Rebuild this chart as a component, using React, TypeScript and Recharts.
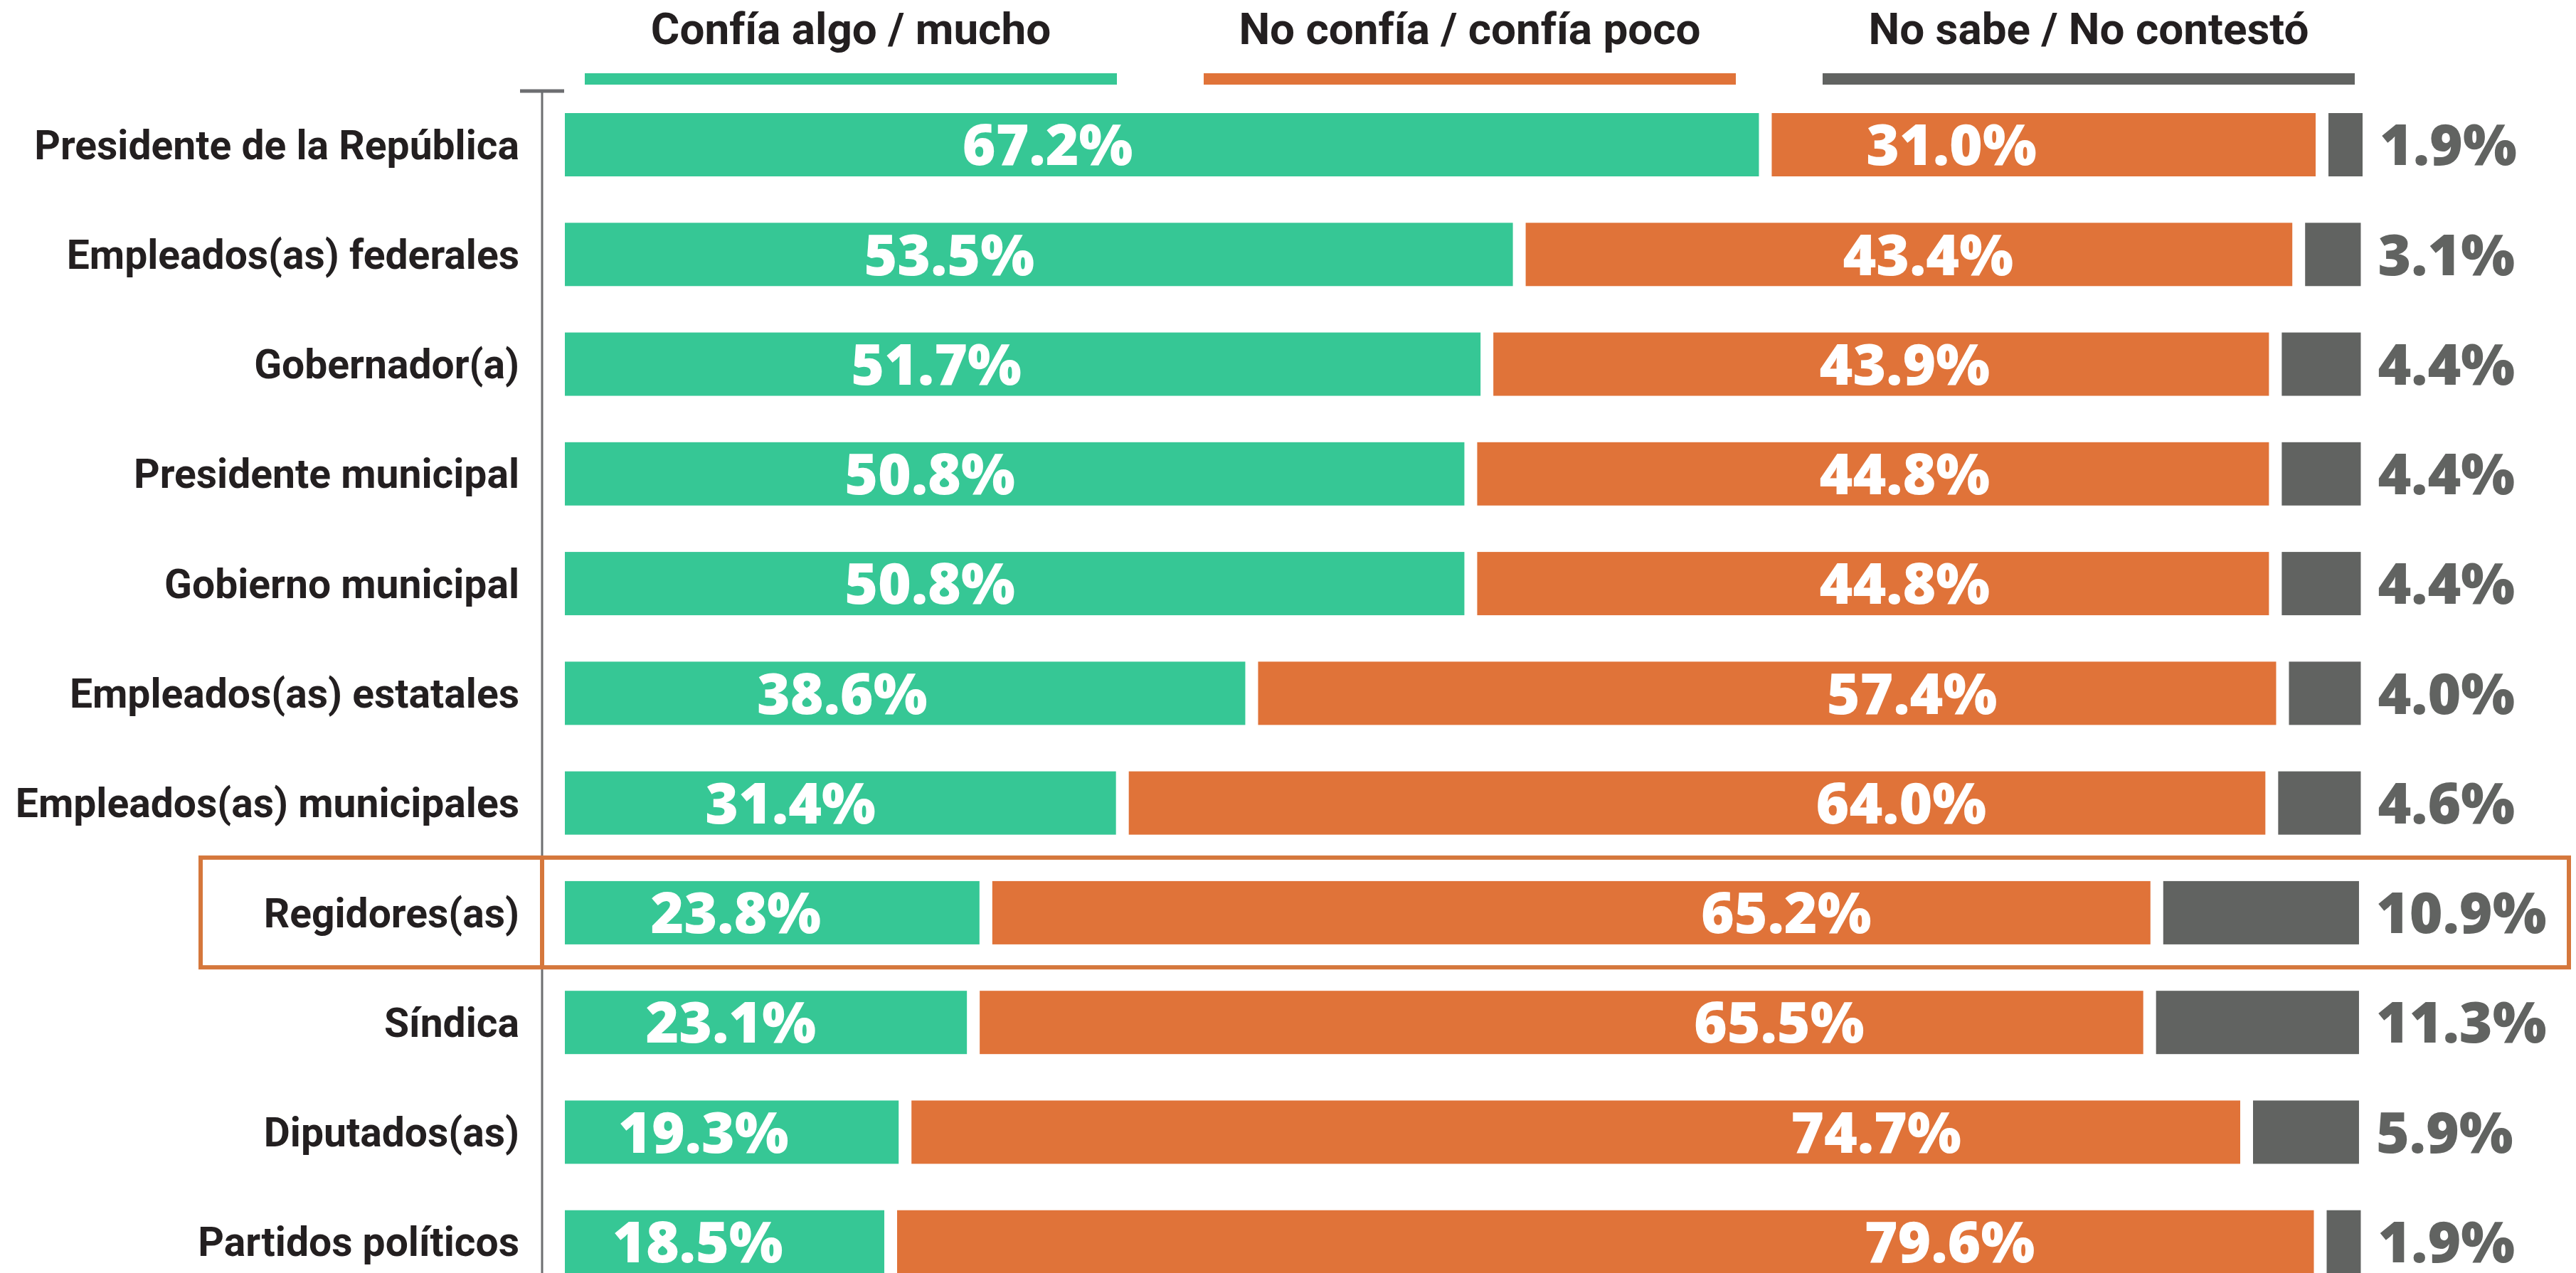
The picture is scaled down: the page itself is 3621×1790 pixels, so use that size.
import { Bar, BarChart, LabelList, Legend, XAxis, YAxis } from 'recharts'

const categories = [
  'Presidente de la República',
  'Empleados(as) federales',
  'Gobernador(a)',
  'Presidente municipal',
  'Gobierno municipal',
  'Empleados(as) estatales',
  'Empleados(as) municipales',
  'Regidores(as)',
  'Síndica',
  'Diputados(as)',
  'Partidos políticos',
]
const confia = [67.2, 53.5, 51.7, 50.8, 50.8, 38.6, 31.4, 23.8, 23.1, 19.3, 18.5]
const noConfia = [31.0, 43.4, 43.9, 44.8, 44.8, 57.4, 64.0, 65.2, 65.5, 74.7, 79.6]
const noSabe = [1.9, 3.1, 4.4, 4.4, 4.4, 4.0, 4.6, 10.9, 11.3, 5.9, 1.9]
const seriesNames = ['Confía algo / mucho', 'No confía / confía poco', 'No sabe / No contestó']
const highlighted = 'Regidores(as)'

const data = categories.map((name, i) => ({
  name,
  confia: confia[i],
  noConfia: noConfia[i],
  noSabe: noSabe[i],
}))

const W = 3621
const H = 1790
const CHART_H = 1830
const MARGIN = { top: 126, right: 300, left: 0, bottom: 7 }
const AXIS_W = 762
const GAP = 18
const BAR_SIZE = 89

const GREEN = '#36c795'
const ORANGE = '#e07339'
const GRAY = '#616361'
const BOX = '#d5773c'
const TEXT = '#231f20'
const AXIS = '#6d6e71'

const labelFont = 'Roboto, sans-serif'
const valueFont = '"Open Sans", sans-serif'

const fmt = (v: number) => `${v.toFixed(1)}%`

// bars leave a white gap on their right edge, except the last one
const GappedBar = (props: any) => {
  const { x, y, width, height, fill } = props
  return <rect x={x} y={y} width={Math.max(width - GAP, 0)} height={height} fill={fill} />
}
const PlainBar = (props: any) => {
  const { x, y, width, height, fill } = props
  return <rect x={x} y={y} width={Math.max(width, 0)} height={height} fill={fill} />
}

const CategoryTick = ({ x, y, payload }: any) => (
  <text x={x} y={y} dy="0.36em" textAnchor="end" fill={TEXT} fontFamily={labelFont} fontWeight={700} fontSize={57}>
    {payload.value}
  </text>
)

const valueText = { fontFamily: valueFont, fontWeight: 800, fontSize: 80 }

const ConfiaLabel = (props: any) => {
  const { x, y, width, height, value } = props
  const cx = Math.max(x + width * 0.4, x + 185)
  return (
    <text x={cx} y={y + height / 2} dy="0.36em" textAnchor="middle" fill="#fff" {...valueText}>
      {fmt(value)}
    </text>
  )
}

const NoConfiaLabel = (props: any) => {
  const { x, y, width, height, value } = props
  const cx = x + width - 530
  return (
    <text x={cx} y={y + height / 2} dy="0.36em" textAnchor="middle" fill="#fff" {...valueText}>
      {fmt(value)}
    </text>
  )
}

const NoSabeLabel = (props: any) => {
  const { x, y, width, height, value } = props
  return (
    <text x={x + width + 24} y={y + height / 2} dy="0.36em" textAnchor="start" fill={GRAY} {...valueText}>
      {fmt(value)}
    </text>
  )
}

const LegendContent = ({ payload }: any) => (
  <svg width={W} height={MARGIN.top}>
    {(payload || []).map((entry: any, i: number) => {
      const left = 822 + i * 870
      return (
        <g key={entry.value}>
          <text x={left + 374} y={62} textAnchor="middle" fill={TEXT} fontFamily={labelFont} fontWeight={700} fontSize={62}>
            {entry.value}
          </text>
          <rect x={left} y={103} width={748} height={16} fill={entry.color} />
        </g>
      )
    })}
  </svg>
)

export default function App() {
  const band = (CHART_H - MARGIN.top - MARGIN.bottom) / categories.length
  const boxTop = MARGIN.top + categories.indexOf(highlighted) * band
  const axisX = MARGIN.left + AXIS_W

  return (
    <div style={{ position: 'absolute', left: 0, top: 0, width: W, height: H, overflow: 'hidden', background: '#fff' }}>
      <BarChart width={W} height={CHART_H} data={data} layout="vertical" margin={MARGIN} barSize={BAR_SIZE}>
        <XAxis type="number" domain={[0, 100.1]} padding={{ left: 32, right: 0 }} hide />
        <YAxis
          type="category"
          dataKey="name"
          width={AXIS_W}
          axisLine={{ stroke: AXIS, strokeWidth: 3 }}
          tickLine={false}
          tickSize={0}
          tickMargin={32}
          tick={<CategoryTick />}
          interval={0}
        />
        <Legend
          verticalAlign="middle"
          layout="horizontal"
          content={<LegendContent />}
          wrapperStyle={{ top: 0, left: 0, width: W, height: MARGIN.top }}
        />
        <Bar dataKey="confia" name={seriesNames[0]} stackId="a" fill={GREEN} shape={GappedBar} isAnimationActive={false}>
          <LabelList dataKey="confia" content={ConfiaLabel} />
        </Bar>
        <Bar dataKey="noConfia" name={seriesNames[1]} stackId="a" fill={ORANGE} shape={GappedBar} isAnimationActive={false}>
          <LabelList dataKey="noConfia" content={NoConfiaLabel} />
        </Bar>
        <Bar dataKey="noSabe" name={seriesNames[2]} stackId="a" fill={GRAY} shape={PlainBar} isAnimationActive={false}>
          <LabelList dataKey="noSabe" content={NoSabeLabel} />
        </Bar>
      </BarChart>
      <svg width={W} height={H} style={{ position: 'absolute', left: 0, top: 0, pointerEvents: 'none' }}>
        <line x1={axisX - 31} x2={axisX + 31} y1={MARGIN.top + 2} y2={MARGIN.top + 2} stroke={AXIS} strokeWidth={5} />
        <rect x={282} y={boxTop} width={3329} height={band} fill="none" stroke={BOX} strokeWidth={6} />
        <line x1={axisX} x2={axisX} y1={boxTop} y2={boxTop + band} stroke={BOX} strokeWidth={6} />
      </svg>
    </div>
  )
}
